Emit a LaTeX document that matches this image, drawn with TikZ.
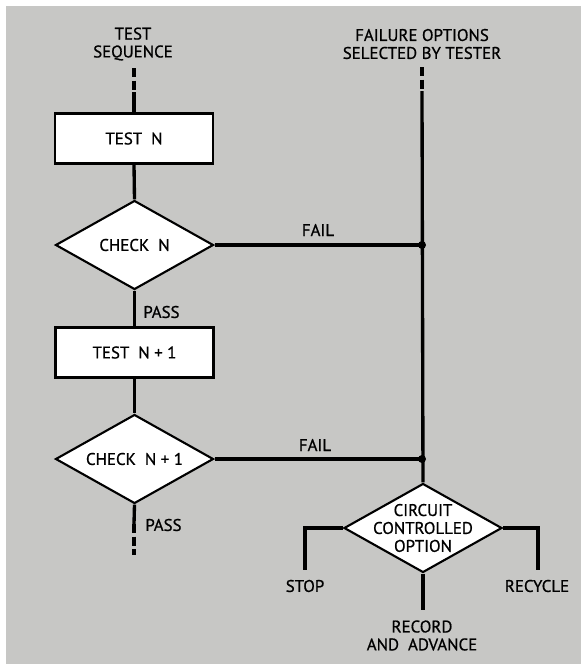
\documentclass[tikz,border=0pt]{standalone}
\usepackage{fontspec}
\setmainfont[FakeBold=0.8]{PT Sans}
\usetikzlibrary{shapes.geometric}

\definecolor{paper}{RGB}{199,199,197}
\tikzset{
  flowline/.style={line width=1.9pt},
  dashline/.style={line width=1.9pt, dash pattern=on 0.18cm off 0.07cm},
  testbox/.style={draw, line width=1.2pt, fill=white, minimum width=3.16cm,
    minimum height=1.0cm, inner sep=0pt},
  checkbox/.style={draw, diamond, line width=1.2pt, fill=white, inner sep=0pt,
    minimum width=3.16cm, minimum height=1.78cm},
  lbl/.style={inner sep=0pt, align=center}
}

\begin{document}
\begin{tikzpicture}[x=0.02cm, y=-0.02cm,
  every node/.style={font=\fontsize{9.6}{10.2}\selectfont}]
  \useasboundingbox (0,0) rectangle (581,664);
  \fill[white] (0,0) rectangle (581,664);
  \fill[paper] (6,6) rectangle (581,664);

  % column headings
  \node[lbl] (seqlbl) at (133,44) {TEST\\SEQUENCE};
  \node[lbl] (optlbl) at (422,44) {FAILURE OPTIONS\\SELECTED BY TESTER};

  % test sequence
  \node[testbox] (testn) at (134,138.5) {TEST\ \ N};
  \node[checkbox] (checkn) at (134.5,245) {};
  \node[lbl] (checkntxt) at (checkn) {CHECK\ \ N};
  \node[testbox] (testnn) at (134.5,352.5) {TEST\ \ N + 1};
  \node[checkbox] (checknn) at (134.5,459) {};
  \node[lbl] (checknntxt) at (checknn) {CHECK\ \ N + 1};

  % failure options
  \node[checkbox] (cco) at (423,528) {};
  \node[lbl] (ccotxt) at (cco) {CIRCUIT\\CONTROLLED\\OPTION};

  \coordinate (seqtop) at (134,68);
  \coordinate (seqsolid) at (134,92);
  \coordinate (opttop) at (422,67);
  \coordinate (optsolid) at (422,91);
  \coordinate (j1) at (422,245);
  \coordinate (j2) at (422,459);
  \coordinate (seqbreak) at (134,524);
  \coordinate (seqend) at (134,555);
  \coordinate (stopend) at (305,570);
  \coordinate (recycend) at (538,570);
  \coordinate (recordend) at (423,610);

  \draw[dashline] (seqtop) -- (seqsolid);
  \draw[flowline] (seqsolid) -- (testn.north);
  \draw[flowline] (testn.south) -- (checkn.north);
  \draw[flowline] (checkn.south) -- (testnn.north);
  \draw[flowline] (testnn.south) -- (checknn.north);
  \draw[flowline] (checknn.south) -- (seqbreak);
  \draw[dashline] (seqbreak) -- (seqend);

  \draw[dashline] (opttop) -- (optsolid);
  \draw[flowline] (optsolid) -- (cco.north);
  \draw[flowline] (checkn.east) -- (j1);
  \draw[flowline] (checknn.east) -- (j2);
  \fill (j1) circle (4);
  \fill (j2) circle (4);

  \draw[flowline] (cco.west) -| (stopend);
  \draw[flowline] (cco.east) -| (recycend);
  \draw[flowline] (cco.south) -- (recordend);

  % labels
  \node[lbl] (fail1) at (318,230) {FAIL};
  \node[lbl] (fail2) at (315,445) {FAIL};
  \node[lbl, anchor=west] (pass1) at (143,312) {PASS};
  \node[lbl, anchor=west] (pass2) at (145,525) {PASS};
  \node[lbl] (stoplbl) at (305,586) {STOP};
  \node[lbl] (recyclbl) at (537,586) {RECYCLE};
  \node[lbl] (recordlbl) at (422,635.5) {RECORD\\AND\ \ ADVANCE};
\end{tikzpicture}
\end{document}
